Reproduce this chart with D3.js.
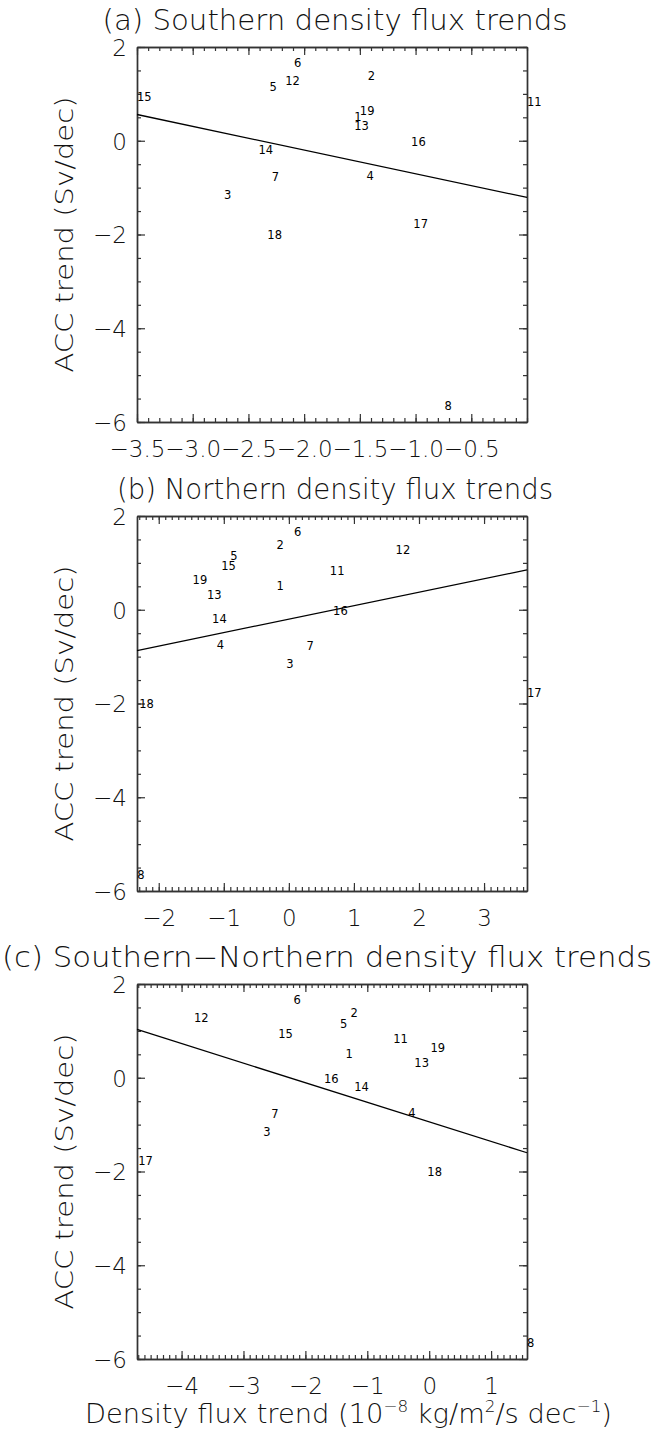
<!DOCTYPE html>
<html>
<head>
<meta charset="utf-8">
<script src="https://cdn.jsdelivr.net/npm/d3@7"></script>
<style>
  body { margin: 0; background: #fff; }
  svg { display: block; }
</style>
</head>
<body>
<svg id="chart"></svg>
<script>
var width = 655;
var height = 1431;

var left = 137;
var right = 527;
var plotHeight = 375;
var tops = [47, 516, 984];

var bigFont = "'DejaVu Sans', sans-serif";

// model numbers and their ACC trends (Sv/dec)
var models = [1, 2, 3, 4, 5, 6, 7, 8, 11, 12, 13, 14, 15, 16, 17, 18, 19];
var accTrend = [0.43, 1.30, -1.25, -0.83, 1.07, 1.58, -0.86, -5.75, 0.75, 1.18, 0.23, -0.29, 0.84, -0.11, -1.87, -2.10, 0.55];

// density flux trends, one value per model
var southFlux = [-1.55, -1.43, -2.72, -1.44, -2.31, -2.09, -2.29, -0.74, 0.0, -2.17, -1.55, -2.41, -3.5, -1.04, -1.02, -2.33, -1.50];
var northFlux = [-0.19, -0.19, -0.04, -1.11, -0.90, 0.08, 0.27, -2.33, 0.63, 1.64, -1.26, -1.18, -1.04, 0.68, 3.66, -2.30, -1.48];
var diffFlux = [-1.35, -1.27, -2.68, -0.34, -1.44, -2.19, -2.55, 1.58, -0.58, -3.80, -0.24, -1.21, -2.44, -1.70, -4.70, -0.03, 0.02];

// x ranges of the three panels
var southDomain = [-3.5, 0.0];
var northDomain = [-2.334, 3.66];
var diffDomain = [-4.72, 1.58];

// fitted lines, end points
var southLineY = [0.56, -1.21];
var northLineY = [-0.87, 0.85];
var diffLineY = [1.03, -1.60];

var southTicks = [-3.5, -3.0, -2.5, -2.0, -1.5, -1.0, -0.5];
var northTicks = [-2, -1, 0, 1, 2, 3];
var diffTicks = [-4, -3, -2, -1, 0, 1];
var yTicks = [2, 0, -2, -4, -6];
var yDomain = [-6, 2];

var titles = ["(a) Southern density flux trends",
              "(b) Northern density flux trends",
              "(c) Southern\u2212Northern density flux trends"];

var svg = d3.select('#chart')
            .attr('width', width)
            .attr('height', height);

function minus(v, digits){
  var s = digits ? Math.abs(v).toFixed(digits) : String(Math.abs(v));
  return (v < 0 ? '\u2212' : '') + s;
}

function drawPanel(i, xValues, domain, ticks, digits, lineY){
  var top = tops[i];
  var bottom = top + plotHeight;

  var xScale = d3.scaleLinear().domain(domain).range([left, right]);
  var yScale = d3.scaleLinear().domain(yDomain).range([bottom, top]);

  var minorX = d3.range(Math.ceil(domain[0] * 10), Math.floor(domain[1] * 10) + 1).map(d => d / 10);
  var minorY = d3.range(-12, 5).map(d => d / 2);

  var g = svg.append('g').attr('color', '#333');

  // minor ticks on all four sides
  g.append('g').attr('transform', `translate(0, ${bottom})`)
    .call(d3.axisBottom(xScale).tickValues(minorX).tickSize(-4).tickSizeOuter(0).tickFormat(''));
  g.append('g').attr('transform', `translate(0, ${top})`)
    .call(d3.axisTop(xScale).tickValues(minorX).tickSize(-4).tickSizeOuter(0).tickFormat(''));
  g.append('g').attr('transform', `translate(${left}, 0)`)
    .call(d3.axisLeft(yScale).tickValues(minorY).tickSize(-4).tickSizeOuter(0).tickFormat(''));
  g.append('g').attr('transform', `translate(${right}, 0)`)
    .call(d3.axisRight(yScale).tickValues(minorY).tickSize(-4).tickSizeOuter(0).tickFormat(''));

  // major ticks
  var xAxis = g.append('g')
    .attr('transform', `translate(0, ${bottom})`)
    .call(d3.axisBottom(xScale).tickValues(ticks).tickSize(-8).tickSizeOuter(0)
            .tickFormat(d => minus(d, digits)));
  xAxis.selectAll('text')
    .attr('y', 35)
    .attr('dy', null)
    .attr('fill', '#111')
    .style('font-family', bigFont)
    .style('font-weight', 200)
    .style('font-size', '23px');

  g.append('g').attr('transform', `translate(0, ${top})`)
    .call(d3.axisTop(xScale).tickValues(ticks).tickSize(-8).tickSizeOuter(0).tickFormat(''));

  var yAxis = g.append('g')
    .attr('transform', `translate(${left}, 0)`)
    .call(d3.axisLeft(yScale).tickValues(yTicks).tickSize(-8).tickSizeOuter(0).tickPadding(10)
            .tickFormat(d => minus(d)));
  yAxis.selectAll('text')
    .attr('dy', '0.36em')
    .attr('fill', '#111')
    .style('font-family', bigFont)
    .style('font-weight', 200)
    .style('font-size', '23px');

  g.append('g').attr('transform', `translate(${right}, 0)`)
    .call(d3.axisRight(yScale).tickValues(yTicks).tickSize(-8).tickSizeOuter(0).tickFormat(''));

  g.selectAll('path.domain').attr('stroke-width', 1.4);
  g.selectAll('.tick line').attr('stroke-width', 1.2);

  // fitted line
  svg.append('path')
    .datum(d3.zip(domain, lineY))
    .attr('fill', 'none')
    .attr('stroke', '#000')
    .attr('stroke-width', 1.3)
    .attr('d', d3.line()
      .x(d => xScale(d[0]))
      .y(d => yScale(d[1])));

  // model numbers at their points
  svg.append('g')
    .selectAll('text')
    .data(models)
    .enter()
    .append('text')
      .attr('x', (d, j) => xScale(xValues[j]))
      .attr('y', (d, j) => yScale(accTrend[j]))
      .style('font-family', bigFont)
      .style('font-size', '11.5px')
      .attr('fill', '#000')
      .text(d => d);

  // panel title
  var t = svg.append('text')
    .attr('y', top - 17)
    .style('font-family', bigFont)
    .style('font-weight', 200)
    .style('font-size', '28px')
    .attr('fill', '#111')
    .attr('lengthAdjust', 'spacingAndGlyphs')
    .text(titles[i]);
  if(i === 2){
    t.attr('x', 2).attr('textLength', 650);
  } else {
    t.attr('x', 335).style('text-anchor', 'middle').attr('textLength', i === 0 ? 465 : 436);
  }

  // y axis label
  svg.append('text')
    .attr('transform', `translate(73, ${(top + bottom) / 2}) rotate(-90)`)
    .style('text-anchor', 'middle')
    .style('font-family', bigFont)
    .style('font-weight', 200)
    .style('font-size', '25px')
    .attr('fill', '#111')
    .attr('textLength', 276)
    .attr('lengthAdjust', 'spacingAndGlyphs')
    .text('ACC trend (Sv/dec)');
}

drawPanel(0, southFlux, southDomain, southTicks, 1, southLineY);
drawPanel(1, northFlux, northDomain, northTicks, 0, northLineY);
drawPanel(2, diffFlux, diffDomain, diffTicks, 0, diffLineY);

// x axis label of the bottom panel
var xLabel = svg.append('text')
  .attr('x', 85)
  .attr('y', 1423)
  .style('font-family', bigFont)
  .style('font-weight', 200)
  .style('font-size', '26px')
  .attr('fill', '#111')
  .attr('textLength', 527)
  .attr('lengthAdjust', 'spacingAndGlyphs');
xLabel.append('tspan').text('Density flux trend (10');
xLabel.append('tspan').attr('dy', -11).style('font-size', '16px').text('\u22128');
xLabel.append('tspan').attr('dy', 11).text(' kg/m');
xLabel.append('tspan').attr('dy', -11).style('font-size', '16px').text('2');
xLabel.append('tspan').attr('dy', 11).text('/s dec');
xLabel.append('tspan').attr('dy', -11).style('font-size', '16px').text('\u22121');
xLabel.append('tspan').attr('dy', 11).text(')');
</script>
</body>
</html>
